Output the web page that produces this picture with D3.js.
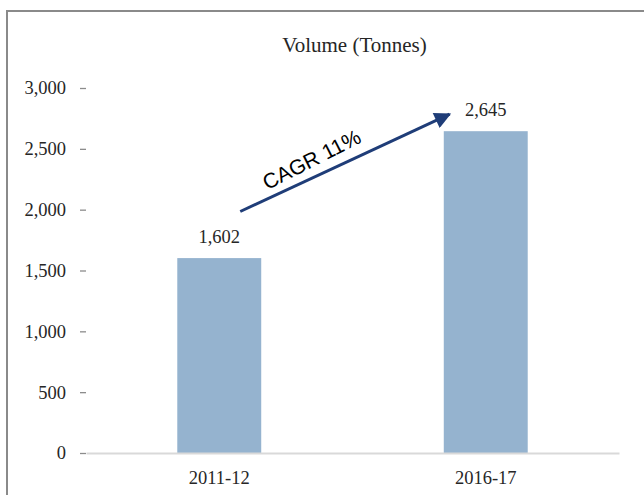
<!DOCTYPE html>
<html>
<head>
<meta charset="utf-8">
<script src="https://cdn.jsdelivr.net/npm/d3@7"></script>
<style>
	body { margin: 0; background: #fff; }
</style>
</head>
<body>
<svg id="svg_volume" width="644" height="495"></svg>
<script>
// chart data
var categories = ["2011-12", "2016-17"];
var volumes = [1602, 2645];
var yTicks = [0, 500, 1000, 1500, 2000, 2500, 3000];
var chartTitle = "Volume (Tonnes)";
var cagrLabel = "CAGR 11%";
// arrow ends: category, position across the bar, value
var arrowFrom = ["2011-12", 0.75, 1985];
var arrowTo = ["2016-17", 0.07, 2785];

var serif = "'Liberation Serif', 'Times New Roman', serif";

function renderVolume() {
	var svg = d3.select("#svg_volume"),
		width = +svg.attr("width"),
		height = +svg.attr("height");
	var margin = {left: 86, right: 25, top: 88, bottom: 42};

	// outer frame
	svg.append("rect")
		.attr("x", 7).attr("y", 11)
		.attr("width", width + 10).attr("height", height + 10)
		.attr("fill", "none")
		.attr("stroke", "#8a8a8a")
		.attr("stroke-width", 2);

	var x = d3.scaleBand()
		.domain(categories)
		.range([margin.left, width - margin.right])
		.paddingInner(0.685)
		.paddingOuter(0.3425);
	var y = d3.scaleLinear()
		.domain([0, 3000])
		.range([height - margin.bottom, margin.top]);

	svg.append("text")
		.attr("x", (margin.left + width - margin.right) / 2 + 2)
		.attr("y", 52)
		.attr("text-anchor", "middle")
		.style("font-family", serif)
		.style("font-size", "21px")
		.attr("fill", "#262626")
		.text(chartTitle);

	// y axis
	var gy = svg.append("g")
		.attr("transform", "translate(" + margin.left + ",0)")
		.call(d3.axisLeft(y).tickValues(yTicks).tickSize(6).tickPadding(14)
			.tickFormat(d3.format(",")));
	gy.select(".domain").remove();
	gy.selectAll("line").attr("stroke", "#8c8c8c").attr("stroke-width", 1.3);
	gy.selectAll("text")
		.style("font-family", serif)
		.style("font-size", "18.5px")
		.attr("fill", "#262626");

	// bars
	svg.append("g").selectAll("rect")
		.data(volumes).enter().append("rect")
		.attr("x", function(d, i) { return x(categories[i]); })
		.attr("y", function(d) { return y(d); })
		.attr("width", x.bandwidth())
		.attr("height", function(d) { return y(0) - y(d); })
		.attr("fill", "#95b3cf");

	// x axis
	var gx = svg.append("g")
		.attr("transform", "translate(0," + y(0) + ")")
		.call(d3.axisBottom(x).tickSize(0).tickSizeOuter(0).tickPadding(18));
	gx.select(".domain").attr("stroke", "#d9d9d9").attr("stroke-width", 2);
	gx.selectAll("text")
		.style("font-family", serif)
		.style("font-size", "18.5px")
		.attr("fill", "#262626");

	// value labels
	svg.append("g").selectAll("text")
		.data(volumes).enter().append("text")
		.attr("x", function(d, i) { return x(categories[i]) + x.bandwidth() / 2; })
		.attr("y", function(d) { return y(d) - 15; })
		.attr("text-anchor", "middle")
		.style("font-family", serif)
		.style("font-size", "18.5px")
		.attr("fill", "#262626")
		.text(function(d) { return d3.format(",")(d); });

	// CAGR arrow
	svg.append("defs").append("marker")
		.attr("id", "arrowhead")
		.attr("viewBox", "0 0 10 10")
		.attr("refX", 9).attr("refY", 5)
		.attr("markerWidth", 6.5).attr("markerHeight", 5.5)
		.attr("orient", "auto")
		.attr("markerUnits", "strokeWidth")
		.append("path").attr("d", "M0,0 L10,5 L0,10 Z")
		.attr("fill", "#1f3d78");
	var x1 = x(arrowFrom[0]) + x.bandwidth() * arrowFrom[1],
		y1 = y(arrowFrom[2]),
		x2 = x(arrowTo[0]) + x.bandwidth() * arrowTo[1],
		y2 = y(arrowTo[2]);
	svg.append("line")
		.attr("x1", x1).attr("y1", y1)
		.attr("x2", x2).attr("y2", y2)
		.attr("stroke", "#1f3d78")
		.attr("stroke-width", 3)
		.attr("marker-end", "url(#arrowhead)");

	var angle = Math.atan2(y2 - y1, x2 - x1) * 180 / Math.PI - 2;
	var cx = x1 + (x2 - x1) * 0.36, cy = y1 + (y2 - y1) * 0.36;
	svg.append("text")
		.attr("transform", "translate(" + (cx - 4) + "," + (cy - 17) + ") rotate(" + angle + ")")
		.attr("text-anchor", "middle")
		.attr("dy", "0.35em")
		.style("font-family", "'Liberation Sans', Arial, sans-serif")
		.style("font-size", "21px")
		.attr("fill", "#000")
		.text(cagrLabel);
}

renderVolume();
</script>
</body>
</html>
